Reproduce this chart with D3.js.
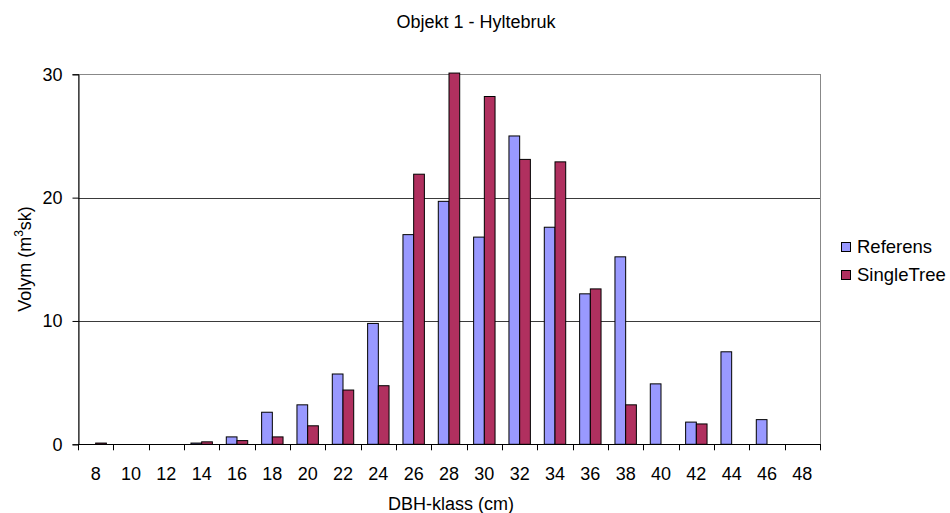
<!DOCTYPE html>
<html>
<head>
<meta charset="utf-8">
<script src="https://cdn.jsdelivr.net/npm/d3@7"></script>
<style>
  html, body { margin: 0; padding: 0; background: #fff; }
  svg text { font-family: "Liberation Sans", Arial, sans-serif; fill: #000; }
</style>
</head>
<body>
<svg id="chart" width="950" height="513"></svg>
<script>
// DBH classes (cm) and volume per class (m³sk)
const classes = ["8","10","12","14","16","18","20","22","24","26","28","30","32","34","36","38","40","42","44","46","48"];
const referens = [0, 0, 0, 0.1, 0.6, 2.6, 3.2, 5.7, 9.8, 17.0, 19.7, 16.8, 25.0, 17.6, 12.2, 15.2, 4.9, 1.8, 7.5, 2.0, 0];
const singleTree = [0.1, 0, 0, 0.2, 0.3, 0.6, 1.5, 4.4, 4.75, 21.9, 30.1, 28.2, 23.1, 22.9, 12.6, 3.2, 0, 1.65, 0, 0, 0];
const yTicks = [0, 10, 20, 30];
const seriesNames = ["Referens", "SingleTree"];
const seriesColors = ["#9999FF", "#B0305F"];

const FONT = 18;
const svg = d3.select("#chart");
const plot = { left: 78, right: 820, top: 74.3, bottom: 444.3 };

const x = d3.scaleBand().domain(classes).range([plot.left, plot.right]).paddingInner(0).paddingOuter(0);
const xs = d3.scaleBand().domain(seriesNames).range([0, x.bandwidth()]).paddingOuter(0.65).paddingInner(0);
const y = d3.scaleLinear().domain([0, 30]).range([plot.bottom, plot.top]);

// plot area border (grey)
svg.append("rect")
  .attr("x", plot.left + 0.5).attr("y", Math.round(plot.top) + 0.5)
  .attr("width", plot.right - plot.left).attr("height", Math.round(plot.bottom) - Math.round(plot.top))
  .attr("fill", "none").attr("stroke", "#888").attr("stroke-width", 1);

// horizontal gridlines
svg.append("g").selectAll("line").data(yTicks.filter(d => d > 0 && d < 30)).join("line")
  .attr("x1", plot.left).attr("x2", plot.right)
  .attr("y1", d => Math.round(y(d)) + 0.5).attr("y2", d => Math.round(y(d)) + 0.5)
  .attr("stroke", "#3a3a3a").attr("stroke-width", 1);

// bars
const data = classes.map((c, i) => ({ c, vals: [referens[i], singleTree[i]] }));
const groups = svg.append("g").selectAll("g").data(data).join("g")
  .attr("transform", d => `translate(${x(d.c)},0)`);
groups.selectAll("rect")
  .data(d => d.vals.map((v, k) => ({ v, k })).filter(e => e.v > 0))
  .join("rect")
  .attr("x", e => xs(seriesNames[e.k]))
  .attr("width", xs.bandwidth())
  .attr("y", e => y(e.v))
  .attr("height", e => y(0) - y(e.v))
  .attr("fill", e => seriesColors[e.k])
  .attr("stroke", "#000").attr("stroke-width", 1);

// x axis: labels centred on each class, tick marks on class boundaries
const xAxis = d3.axisBottom(x).tickSize(0).tickPadding(22.5);
const gx = svg.append("g").attr("transform", `translate(0,${plot.bottom})`).call(xAxis);
gx.select(".domain").remove();
gx.selectAll("text").attr("font-size", FONT).attr("font-family", "Liberation Sans, Arial, sans-serif");
svg.append("g").selectAll("line").data(d3.range(classes.length + 1)).join("line")
  .attr("x1", i => Math.round(plot.left + i * x.step()) + 0.5)
  .attr("x2", i => Math.round(plot.left + i * x.step()) + 0.5)
  .attr("y1", plot.bottom).attr("y2", plot.bottom + 6)
  .attr("stroke", "#000");
svg.append("line")
  .attr("x1", plot.left).attr("x2", plot.right + 1)
  .attr("y1", Math.round(plot.bottom) + 0.5).attr("y2", Math.round(plot.bottom) + 0.5)
  .attr("stroke", "#000");

// y axis
const yAxis = d3.axisLeft(y).tickValues(yTicks).tickSize(6).tickPadding(10).tickFormat(d3.format("d"));
const gy = svg.append("g").attr("transform", `translate(${plot.left + 0.5},0)`).call(yAxis);
gy.select(".domain").attr("stroke", "#000");
gy.selectAll("line").attr("stroke", "#000");
gy.selectAll("text").attr("font-size", FONT).attr("font-family", "Liberation Sans, Arial, sans-serif");

// title
svg.append("text").attr("x", 476).attr("y", 28).attr("text-anchor", "middle")
  .attr("font-size", FONT).text("Objekt 1 - Hyltebruk");

// axis titles
svg.append("text").attr("x", (plot.left + plot.right) / 2 + 2).attr("y", 509.5).attr("text-anchor", "middle")
  .attr("font-size", FONT).text("DBH-klass (cm)");
const yl = svg.append("text").attr("transform", "translate(31,259) rotate(-90)").attr("text-anchor", "middle")
  .attr("font-size", FONT);
yl.append("tspan").text("Volym (m");
yl.append("tspan").attr("font-size", 12).attr("dy", -8).text("3");
yl.append("tspan").attr("dy", 8).text("sk)");

// legend
const lg = svg.append("g").attr("transform", "translate(841,242)");
seriesNames.forEach((name, i) => {
  lg.append("rect").attr("x", 0.5).attr("y", i * 28 + 0.5).attr("width", 9).attr("height", 9)
    .attr("fill", seriesColors[i]).attr("stroke", "#000");
  lg.append("text").attr("x", 16).attr("y", i * 28 + 10.5).attr("font-size", 18.5).text(name);
});
</script>
</body>
</html>
